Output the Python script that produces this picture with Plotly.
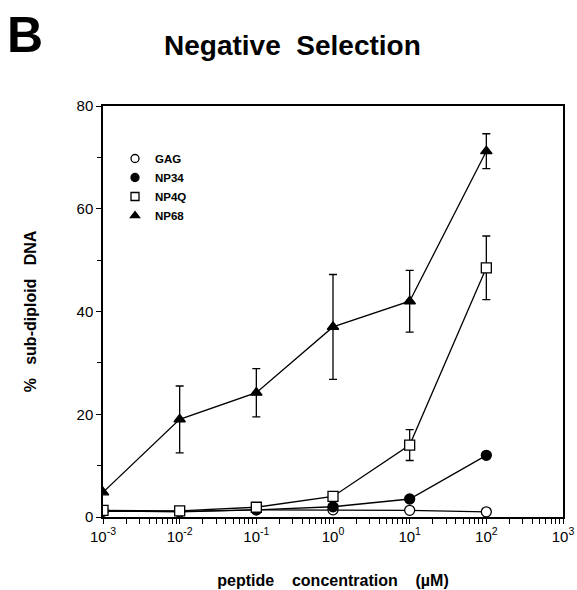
import plotly.graph_objects as go

conc = [1e-3, 1e-2, 1e-1, 1e0, 1e1, 1e2]

gag = [1.2, 1.0, 1.4, 1.4, 1.3, 1.0]
np34 = [1.1, 1.1, 1.4, 2.0, 3.5, 12.0]
np4q = [1.3, 1.2, 1.9, 4.0, 14.0, 48.5]
np4q_err = [0, 0, 0, 0, 3.0, 6.2]
np68 = [4.8, 19.0, 24.2, 37.0, 42.0, 71.2]
np68_err = [0, 6.5, 4.7, 10.2, 6.0, 3.4]

decades = [1e-3, 1e-2, 1e-1, 1e0, 1e1, 1e2, 1e3]
decade_text = ["10<sup>-3</sup>", "10<sup>-2</sup>", "10<sup>-1</sup>", "10<sup>0</sup>",
               "10<sup>1</sup>", "10<sup>2</sup>", "10<sup>3</sup>"]
ytick_vals = [0, 20, 40, 60, 80]

# tick positions: every decade plus 2..9 within each decade (labels only on decades)
xtick_vals = []
xtick_text = []
for d, lab in zip(decades, decade_text):
    xtick_vals.append(d)
    xtick_text.append(lab)
    if d < 1e3:
        for m in range(2, 10):
            xtick_vals.append(d * m)
            xtick_text.append("")

FONT = "Liberation Sans"
LW = 1.3

# body margin is removed by post_script, so figure coords == screen coords
W, H = 577, 590
L, T = 103, 106
R = W - 563
B = H - 517
pw = W - L - R
ph = H - T - B


def px(xs):
    return (xs - L) / pw


def py(ys):
    return (H - B - ys) / ph


fig = go.Figure()

series = [
    ("GAG", gag, None, "circle", "white"),
    ("NP34", np34, None, "circle", "black"),
    ("NP4Q", np4q, np4q_err, "square", "white"),
    ("NP68", np68, np68_err, "triangle-up", "black"),
]

for name, ys, err, sym, fill in series:
    kw = {}
    if err is not None:
        kw["error_y"] = dict(type="data", array=err, visible=True, color="black",
                             thickness=1.3, width=4)
    fig.add_trace(go.Scatter(
        x=conc, y=ys, mode="lines+markers", name=name, showlegend=False,
        line=dict(color="black", width=LW),
        marker=dict(symbol=sym, size=10, color=fill, line=dict(color="black", width=1.3)),
        **kw))

for name, ys, err, sym, fill in series:
    fig.add_trace(go.Scatter(
        x=[None], y=[None], mode="markers", name=name, showlegend=True,
        marker=dict(symbol=sym, size=8, color=fill, line=dict(color="black", width=1.3))))

axis_common = dict(showgrid=False, zeroline=False, automargin=False)

fig.update_layout(
    width=W, height=H,
    margin=dict(l=L, r=R, t=T, b=B, autoexpand=False),
    paper_bgcolor="white", plot_bgcolor="white",
    font=dict(family=FONT, color="black", size=14),
    showlegend=True,
    legend=dict(x=px(115), y=py(144), xanchor="left", yanchor="top",
                bgcolor="rgba(0,0,0,0)", font=dict(size=11.5, family=FONT, weight="bold"),
                itemwidth=30, tracegroupgap=0),
    xaxis=dict(type="log", range=[-3, 3], tickmode="array", tickvals=xtick_vals,
               ticktext=xtick_text, ticklabeloverflow="allow",
               ticks="outside", ticklen=5, tickwidth=1.2, tickcolor="black",
               showline=True, linecolor="black", linewidth=1.5, mirror=True,
               tickfont=dict(size=15),
               title=dict(text="peptide\u00a0\u00a0\u00a0\u00a0concentration\u00a0\u00a0\u00a0\u00a0(\u00b5M)",
                          font=dict(size=16, weight="bold"), standoff=31),
               **axis_common),
    yaxis=dict(range=[0, 80], tickvals=ytick_vals,
               ticks="outside", ticklen=5, tickwidth=1.3, tickcolor="black",
               showline=True, linecolor="black", linewidth=1.5, mirror=True,
               tickfont=dict(size=15),
               minor=dict(dtick=10, ticks="outside", ticklen=4, tickwidth=1,
                          tickcolor="black", showgrid=False),
               title=dict(text="%\u00a0\u00a0\u00a0sub-diploid\u00a0\u00a0\u00a0DNA",
                          font=dict(size=16, weight="bold"), standoff=36),
               **axis_common),
    annotations=[
        dict(text="<b>B</b>", x=px(25), y=py(35), xref="paper", yref="paper",
             xanchor="center", yanchor="middle",
             showarrow=False, font=dict(size=50, family=FONT)),
        dict(text="Negative\u00a0\u00a0Selection", x=px(292), y=py(45), xref="paper", yref="paper",
             xanchor="center", yanchor="middle",
             showarrow=False, font=dict(size=28, family=FONT, weight="bold")),
    ],
)

fig.write_html(
    "out.html",
    config={"displayModeBar": False},
    post_script="document.body.style.margin='0';document.body.style.overflow='hidden';",
)
